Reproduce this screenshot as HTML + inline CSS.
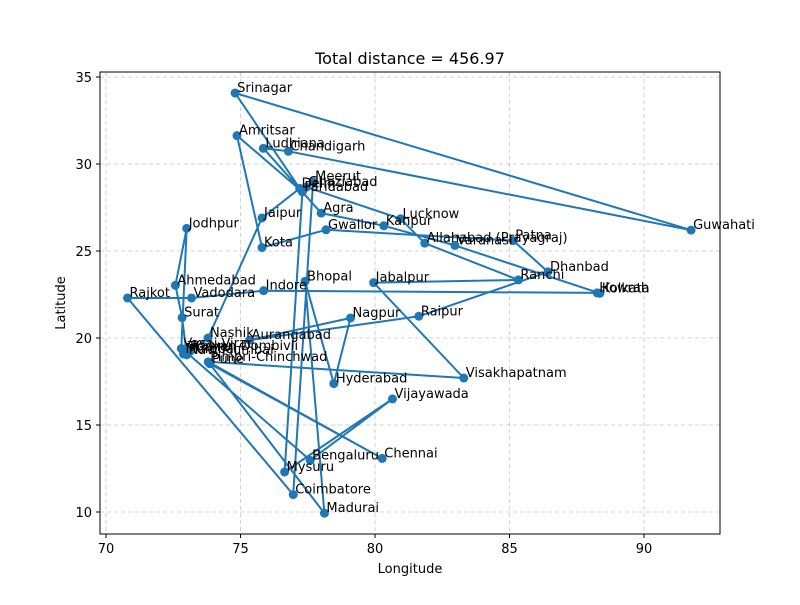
<!DOCTYPE html>
<html><head><meta charset="utf-8">
<style>
body{margin:0;background:#fff;}
svg text{font-family:"DejaVu Sans","Liberation Sans",sans-serif;}
</style></head>
<body>
<svg id="chart" width="800" height="600" xmlns="http://www.w3.org/2000/svg">
<rect width="800" height="600" fill="#fff"/>
<text x="410" y="64" font-size="16" text-anchor="middle">Total distance = 456.97</text>
<g id="grid"></g>
<g id="route"></g>
<g id="points"></g>
<g id="labels"></g>
<rect x="100" y="72" width="620" height="462" fill="none" stroke="#000" stroke-width="1"/>
<g id="xticks"></g>
<g id="yticks"></g>
<text x="410" y="573" font-size="13" text-anchor="middle">Longitude</text>
<text x="0" y="0" font-size="13" text-anchor="middle" transform="translate(65,303) rotate(-90)">Latitude</text>
</svg>
<script>
const cities = ["Srinagar","Guwahati","Chandigarh","Ludhiana","Agra","Kanpur","Varanasi","Kolkata","Howrah","Indore","Vadodara","Rajkot","Coimbatore","Meerut","Ghaziabad","Lucknow","Allahabad (Prayagraj)","Ranchi","Jabalpur","Visakhapatnam","Pimpri-Chinchwad","Chennai","Pune","Madurai","Bhopal","Hyderabad","Nagpur","Aurangabad","Raipur","Dhanbad","Patna","Gwalior","Kota","Amritsar","Faridabad","Mysuru","Vijayawada","Bengaluru","Thane","Mumbai","Navi Mumbai","Surat","Ahmedabad","Jodhpur","Vasai-Virar","Kalyan-Dombivli","Nashik","Jaipur","Delhi"];
const lons = [74.8,91.75,76.78,75.85,78.0,80.33,82.97,88.36,88.26,75.86,73.18,70.8,76.96,77.7,77.45,80.95,81.85,85.33,79.95,83.3,73.8,80.27,73.86,78.12,77.4,78.47,79.09,75.34,81.63,86.43,85.14,78.18,75.8,74.87,77.3,76.64,80.65,77.59,72.97,72.88,73.0,72.83,72.58,73.0,72.8,73.13,73.79,75.8,77.2];
const lats = [34.08,26.2,30.73,30.9,27.18,26.45,25.32,22.57,22.59,22.72,22.3,22.3,11.0,28.98,28.67,26.85,25.45,23.34,23.18,17.7,18.63,13.08,18.52,9.93,23.26,17.38,21.15,19.88,21.25,23.8,25.6,26.22,25.2,31.63,28.4,12.3,16.5,12.97,19.2,19.08,19.03,21.17,23.03,26.3,19.4,19.24,20.0,26.9,28.6];
const xTicks = [70,75,80,85,90];
const yTicks = [10,15,20,25,30,35];

const NS="http://www.w3.org/2000/svg";
const X = v => 106 + (v-70)*26.9;
const Y = v => 512 - (v-10)*17.4;
function mk(tag, attrs, parent){const e=document.createElementNS(NS,tag);for(const k in attrs)e.setAttribute(k,attrs[k]);document.getElementById(parent).appendChild(e);return e;}

xTicks.forEach(t=>{
  const g=mk('line',{x1:X(t),x2:X(t),y1:72,y2:534,stroke:'#b0b0b0','stroke-dasharray':'4,3','stroke-width':0.8,opacity:0.7},'grid');
  
  
  const tk=mk('line',{x1:X(t),x2:X(t),y1:534,y2:538,stroke:'#000'},'xticks');
  
  
  const tx=mk('text',{x:X(t),y:553,'font-size':13,'text-anchor':'middle'},'xticks');
  tx.textContent=t;
  
  
});
yTicks.forEach(t=>{
  const g=mk('line',{x1:100,x2:720,y1:Y(t),y2:Y(t),stroke:'#b0b0b0','stroke-dasharray':'4,3','stroke-width':0.8,opacity:0.7},'grid');
  
  
  const tk=mk('line',{x1:96,x2:100,y1:Y(t),y2:Y(t),stroke:'#000'},'yticks');
  
  
  const tx=mk('text',{x:92,y:Y(t)+5,'font-size':13,'text-anchor':'end'},'yticks');
  tx.textContent=t;
  
  
});

let pts=cities.map((c,i)=>X(lons[i]).toFixed(1)+','+Y(lats[i]).toFixed(1));
pts.push(pts[0]);
const route=mk('polyline',{points:pts.join(' '),fill:'none',stroke:'#1f77b4','stroke-width':2,'stroke-linejoin':'round'},'route');



cities.forEach((c,i)=>{
  const p=mk('circle',{cx:X(lons[i]),cy:Y(lats[i]),r:4.5,fill:'#1f77b4'},'points');
  
  
  const t=mk('text',{x:X(lons[i])+2,y:Y(lats[i])-1,'font-size':13,fill:'#000'},'labels');
  t.textContent=c;
  
  
});
</script>
</body></html>
